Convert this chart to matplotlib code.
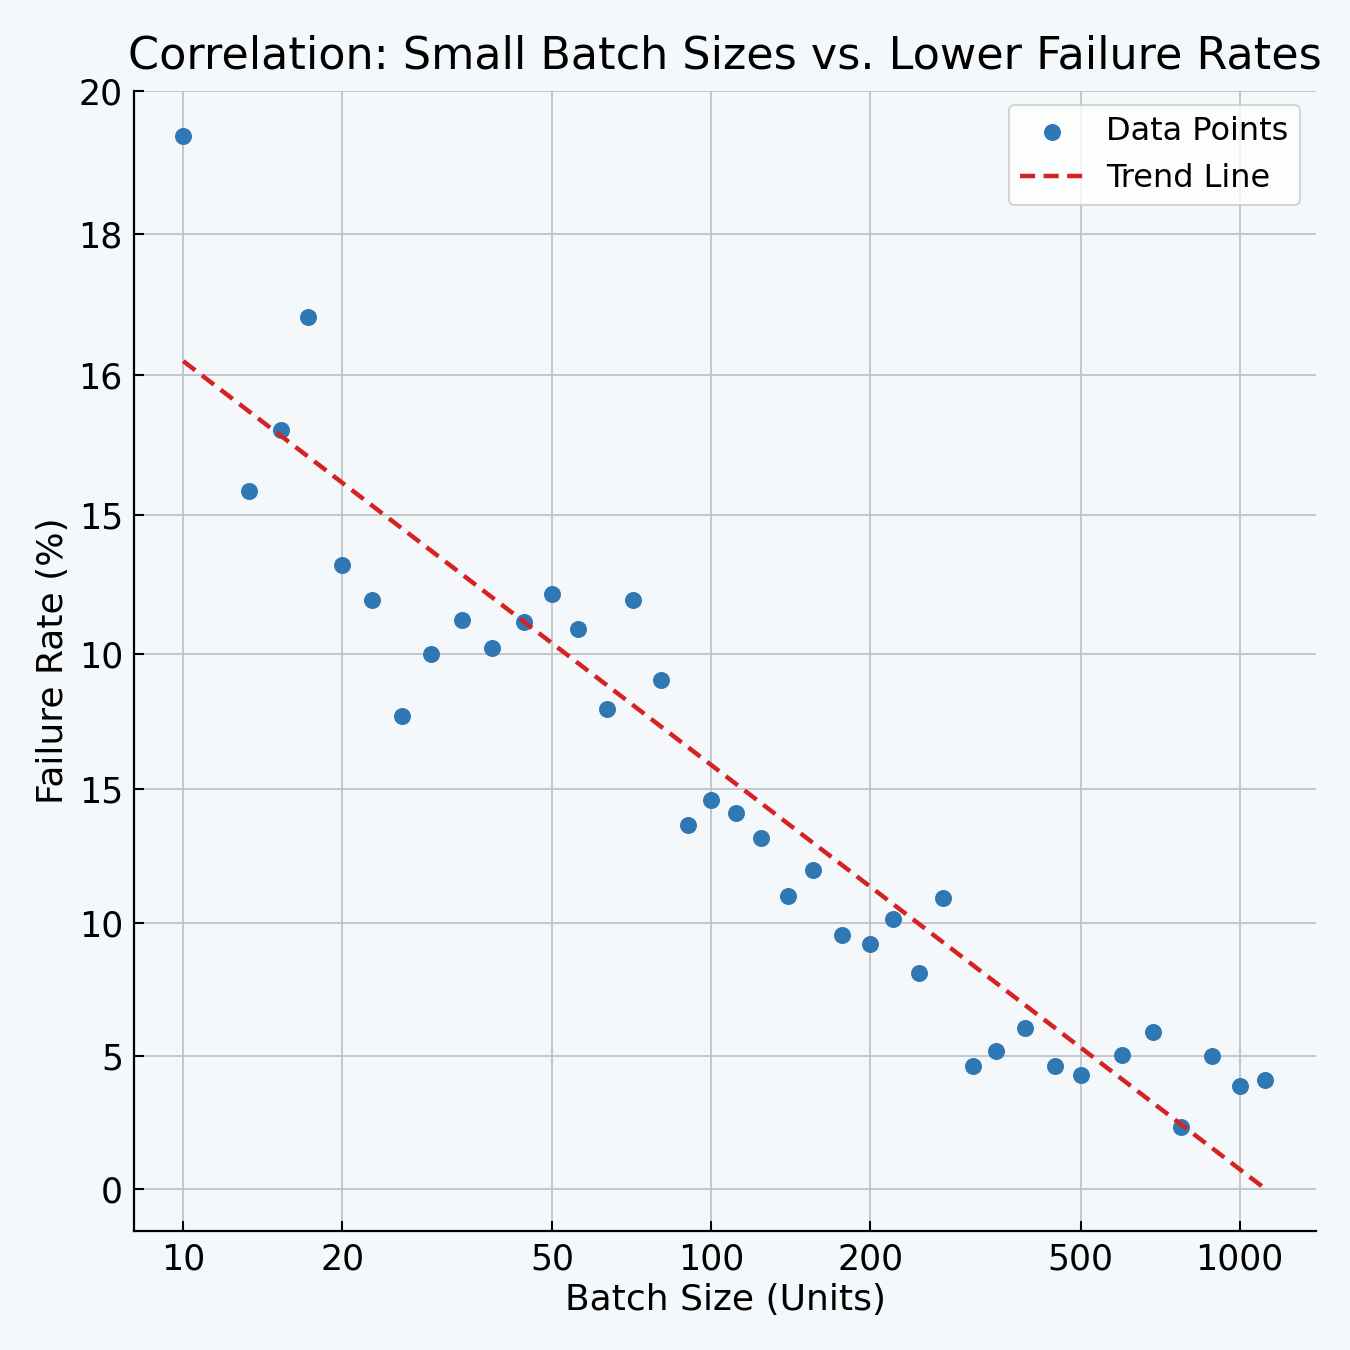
import numpy as np
import matplotlib
matplotlib.use("Agg")
import matplotlib.pyplot as plt

# ---- data ----
batch_size = [10, 13.3, 15.3, 17.2, 20, 22.8, 26.0, 29.5, 33.7, 38.5, 44.1, 50,
              55.9, 63.3, 71.0, 80.1, 90.2, 100, 111.3, 124, 139.8, 155.7, 176.5,
              200, 221, 247.5, 274.9, 312.9, 346, 392, 446.6, 500, 598.6, 685.8,
              775, 888.5, 1000, 1115]
failure_rate = [19.18, 12.71, 13.83, 15.88, 11.37, 10.73, 8.62, 9.745, 10.36, 9.85,
                10.33, 10.84, 10.20, 8.74, 10.73, 9.27, 6.63, 7.09, 6.85, 6.39, 5.34,
                5.81, 4.63, 4.46, 4.92, 3.93, 5.30, 2.24, 2.51, 2.93, 2.24, 2.08,
                2.44, 2.86, 1.13, 2.42, 1.88, 1.99]
trend_x_range = [10, 1106]
trend_slope = -7.359      # per decade of batch size
trend_intercept = 22.439

xtick_values = [10, 20, 50, 100, 200, 500, 1000]
xtick_labels = ["10", "20", "50", "100", "200", "500", "1000"]
ytick_labels = ["0", "5", "10", "15", "10", "15", "16", "18", "20"]
ytick_positions = [0, 2.42, 4.845, 7.286, 9.745, 12.277, 14.827, 17.395, 20]

# ---- figure ----
bg = "#f4f8fa"
plt.rcParams["font.family"] = ["DejaVu Sans"]
fig = plt.figure(figsize=(13.5, 13.5), dpi=100, facecolor=bg)
ax = fig.add_axes([0.0993, 0.0881, 0.8755, 0.8445], facecolor=bg)

ax.scatter(batch_size, failure_rate, s=150, color="#2f78b4", zorder=3,
           label="Data Points", linewidths=0)

tx = np.logspace(np.log10(trend_x_range[0]), np.log10(trend_x_range[1]), 50)
ty = trend_intercept + trend_slope * np.log10(tx)
ax.plot(tx, ty, color="#d62222", linestyle=(0, (3.4, 1.9)), linewidth=3.2,
        zorder=4, label="Trend Line")

ax.set_xscale("log")
ax.set_xlim(8.07, 1395)
ax.set_ylim(-0.765, 20)
ax.set_xticks(xtick_values)
ax.set_xticklabels(xtick_labels)
ax.xaxis.set_minor_locator(matplotlib.ticker.NullLocator())
ax.set_yticks(ytick_positions)
ax.set_yticklabels(ytick_labels)

ax.tick_params(axis="both", direction="in", length=7, width=1.5,
               labelsize=25, pad=8, colors="black")
ax.grid(True, color="#bfc3c6", linewidth=1.3, zorder=0)
ax.set_axisbelow(True)

for side in ["top", "right"]:
    ax.spines[side].set_visible(False)
for side in ["left", "bottom"]:
    ax.spines[side].set_linewidth(1.6)
    ax.spines[side].set_color("black")

ax.set_xlabel("Batch Size (Units)", fontsize=26, labelpad=5)
ax.set_ylabel("Failure Rate (%)", fontsize=26, labelpad=6)
ax.set_title("Correlation: Small Batch Sizes vs. Lower Failure Rates",
             fontsize=32, pad=16)

leg = ax.legend(loc="upper right", fontsize=23, frameon=True, fancybox=True,
                borderpad=0.35, handlelength=2.0, handletextpad=0.7,
                borderaxespad=0, bbox_to_anchor=(0.9865, 0.9877))
leg.get_frame().set_facecolor("white")
leg.get_frame().set_edgecolor("#cccccc")
leg.get_frame().set_linewidth(1.5)

fig.savefig("out.png", dpi=100, facecolor=bg)
